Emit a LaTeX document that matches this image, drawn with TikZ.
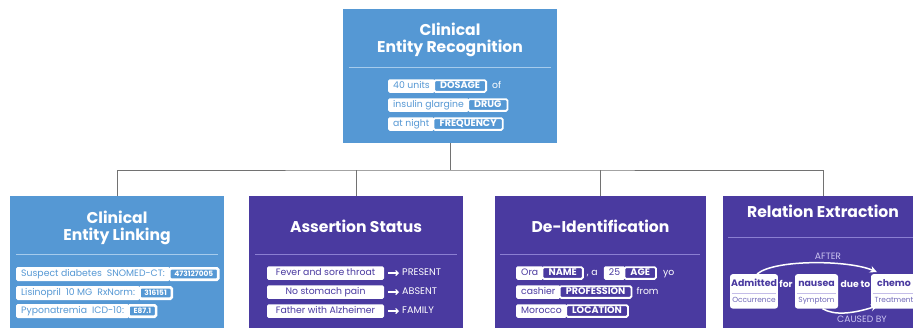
\documentclass[tikz,border=0pt]{standalone}
\usepackage{fontspec}
\setmainfont{Poppins}
\usetikzlibrary{arrows.meta,shapes.multipart,calc}
\definecolor{bluebg}{HTML}{5598D4}
\definecolor{purpbg}{HTML}{4A3AA0}
\definecolor{bluediv}{HTML}{A6CBEC}
\definecolor{purpdiv}{HTML}{8B7FD2}
\definecolor{lav}{HTML}{CBC4F0}
\definecolor{connc}{HTML}{727272}
\definecolor{entsep}{HTML}{C4BDE8}
\definecolor{entsub}{HTML}{7068B8}
\newcommand{\regf}{\fontsize{9.3}{11}\selectfont}
\newcommand{\capf}{\fontsize{9.6}{11}\selectfont}
\tikzset{
  panel/.style={fill=#1, draw=none, minimum width=214, minimum height=140, inner sep=0},
  ttl/.style={text=white, font=\bfseries\fontsize{15.6}{17}\selectfont, align=center, inner sep=0},
  conn/.style={draw=connc, line width=1},
  divl/.style={draw=#1, line width=1},
  chipL/.style={fill=white, rounded corners=1.5, minimum height=13.5, inner xsep=5, inner ysep=0,
    text height=6.6, text depth=1.9, font=\regf, text=#1, anchor=west},
  chipT/.style={fill=#1, draw=white, line width=1.8, rounded corners=1.5, minimum height=11.7,
    inner xsep=6, inner ysep=0, text height=6.6, text depth=1.9,
    font=\bfseries\capf, text=white, anchor=west},
  linkL/.style={fill=white, rounded corners=1.5, minimum height=14, inner xsep=5, inner ysep=0,
    text height=6.6, text depth=1.9, font=\regf, text=bluebg, anchor=west},
  linkT/.style={fill=bluebg, draw=white, line width=2.6, rounded corners=1.5, minimum height=11.4,
    inner xsep=5, inner ysep=0, text height=5.2, text depth=0.5,
    font=\bfseries\fontsize{7.4}{8}\selectfont, text=white, anchor=west},
  plain/.style={text=white, inner xsep=2, inner ysep=0, text height=6.6, text depth=1.9,
    font=\regf, anchor=west},
  asbox/.style={fill=white, rounded corners=1.5, minimum width=117, minimum height=13.5, inner sep=0,
    text height=6.6, text depth=1.9, font=\regf, text=purpbg},
  aslbl/.style={text=white, inner sep=0, text height=6.6, text depth=1.9,
    font=\capf, anchor=west},
  asarrow/.style={draw=white, line width=1.2, -{Straight Barb[length=2.5pt,width=5pt]},
    shorten <=4pt, shorten >=3pt},
  ent/.style={rectangle split, rectangle split parts=2, rectangle split part align=center,
    fill=white, rounded corners=2.5, minimum width=#1, inner xsep=1, inner ysep=0, text=purpbg},
  entw/.style={text=white, inner sep=0, font=\bfseries\fontsize{9.2}{10}\selectfont},
  rel/.style={draw=white, line width=1.5, -{Stealth[length=7pt,width=7pt]}},
  rellbl/.style={text=lav, inner sep=0, font=\fontsize{9.2}{10}\selectfont},
}
\newcommand{\enttop}[1]{\rule[-6pt]{0pt}{18.5pt}{\bfseries\fontsize{9.4}{10}\selectfont #1}}
\newcommand{\entbot}[1]{\rule[-5.5pt]{0pt}{15pt}{\fontsize{7.4}{8}\selectfont\color{entsub}#1}}
\begin{document}
\begin{tikzpicture}[x=1pt,y=-1pt]
\useasboundingbox (0,0) rectangle (913,327);
\clip (0,0) rectangle (913,327);
\fill[white] (0,0) rectangle (913,327);

% panels
\node[panel=bluebg, minimum height=134] (ner) at (450,76) {};
\node[panel=bluebg] (cel) at (117,266) {};
\node[panel=purpbg] (asr) at (356,266) {};
\node[panel=purpbg, minimum width=211] (dei) at (600.5,266) {};
\node[panel=purpbg, minimum width=200] (rex) at (823,266) {};

% connectors
\coordinate (bus) at (450,170);
\draw[conn] (ner.south) -- (bus);
\draw[conn] (cel.north) |- (bus) -| (rex.north);
\draw[conn] (asr.north) -- (asr.north |- bus);
\draw[conn] (dei.north) -- (dei.north |- bus);

% titles
\node[ttl] (nerT) at (450,40) {Clinical\\Entity Recognition};
\node[ttl] (celT) at (117,228) {Clinical\\Entity Linking};
\node[ttl] (asrT) at (356,226.5) {Assertion Status};
\node[ttl] (deiT) at (600.5,226.5) {De-Identification};
\node[ttl] (rexT) at (823,211.5) {Relation Extraction};

% dividers
\draw[divl=bluediv] (349,67) -- (551,67);
\draw[divl=bluediv] (16,254) -- (218,254);
\draw[divl=purpdiv] (255,254) -- (457,254);
\draw[divl=purpdiv] (500,254) -- (700,254);
\draw[divl=purpdiv] (728,237) -- (913,237);

% NER chips
\node[chipL=bluebg] (n1) at (388,86) {40 units};
\node[chipT=bluebg] (n1t) at ([xshift=-1.8]n1.east) {DOSAGE};
\node[plain] (n1o) at ([xshift=3]n1t.east) {of};
\node[chipL=bluebg] (n2) at (388,105) {insulin glargine};
\node[chipT=bluebg] (n2t) at ([xshift=-1.8]n2.east) {DRUG};
\node[chipL=bluebg] (n3) at (388,124) {at night};
\node[chipT=bluebg] (n3t) at ([xshift=-1.8]n3.east) {FREQUENCY};

% Entity linking chips
\node[linkL] (l1) at (16,274) {Suspect diabetes\ \ SNOMED-CT:};
\node[linkT] (l1t) at ([xshift=-2]l1.east) {473127005};
\node[linkL] (l2) at (16,293) {Lisinopril\ \ 10 MG\ \ RxNorm:};
\node[linkT] (l2t) at ([xshift=-2]l2.east) {316151};
\node[linkL] (l3) at (16,311) {Pyponatremia\ \ ICD-10:};
\node[linkT] (l3t) at ([xshift=-2]l3.east) {E87.1};

% Assertion status
\node[asbox] (a1) at (325.5,273) {Fever and sore throat};
\node[aslbl] (a1l) at (402,273) {PRESENT};
\draw[asarrow] (a1) -- (a1l);
\node[asbox] (a2) at (325.5,292) {No stomach pain};
\node[aslbl] (a2l) at (402,292) {ABSENT};
\draw[asarrow] (a2) -- (a2l);
\node[asbox] (a3) at (325.5,311) {Father with Alzheimer};
\node[aslbl] (a3l) at (402,311) {FAMILY};
\draw[asarrow] (a3) -- (a3l);

% De-identification
\node[chipL=purpbg] (d1) at (516,273) {Ora};
\node[chipT=purpbg] (d1t) at ([xshift=-1.8]d1.east) {NAME};
\node[plain] (d1c) at ([xshift=1]d1t.east) {, a};
\node[chipL=purpbg] (d2) at ([xshift=4]d1c.east) {25};
\node[chipT=purpbg] (d2t) at ([xshift=-1.8]d2.east) {AGE};
\node[plain] (d2y) at ([xshift=4]d2t.east) {yo};
\node[chipL=purpbg] (d3) at (516,292) {cashier};
\node[chipT=purpbg] (d3t) at ([xshift=-1.8]d3.east) {PROFESSION};
\node[plain] (d3f) at ([xshift=2]d3t.east) {from};
\node[chipL=purpbg] (d4) at (516,311) {Morocco};
\node[chipT=purpbg] (d4t) at ([xshift=-1.8]d4.east) {LOCATION};

% Relation extraction
\node[ent=46, anchor=north] (e1) at (754,274) {\enttop{Admitted}\nodepart{two}\entbot{Occurrence}};
\node[ent=43, anchor=north] (e2) at (816.5,274) {\enttop{nausea}\nodepart{two}\entbot{Symptom}};
\node[ent=46, anchor=north] (e3) at (894,274) {\enttop{chemo}\nodepart{two}\entbot{Treatment}};
\draw[entsep, line width=0.8] ([xshift=2]e1.text split west) -- ([xshift=-2]e1.text split east);
\draw[entsep, line width=0.8] ([xshift=2]e2.text split west) -- ([xshift=-2]e2.text split east);
\draw[entsep, line width=0.8] ([xshift=2]e3.text split west) -- ([xshift=-2]e3.text split east);
\node[entw] (f1) at (786,284) {for};
\node[entw] (f2) at (855.5,284) {due to};
\draw[rel] ([xshift=3]e1.north) .. controls +(18,-15) and +(-28,-12) .. ([xshift=6,yshift=2]e3.north west);
\draw[rel] ([xshift=6]e2.south) .. controls +(12,7) and +(-25,8) .. ([xshift=7,yshift=3]e3.south west);
\node[rellbl] (afterL) at (828,256) {AFTER};
\node[rellbl] (causedL) at (862,319) {CAUSED BY};
\end{tikzpicture}
\end{document}
